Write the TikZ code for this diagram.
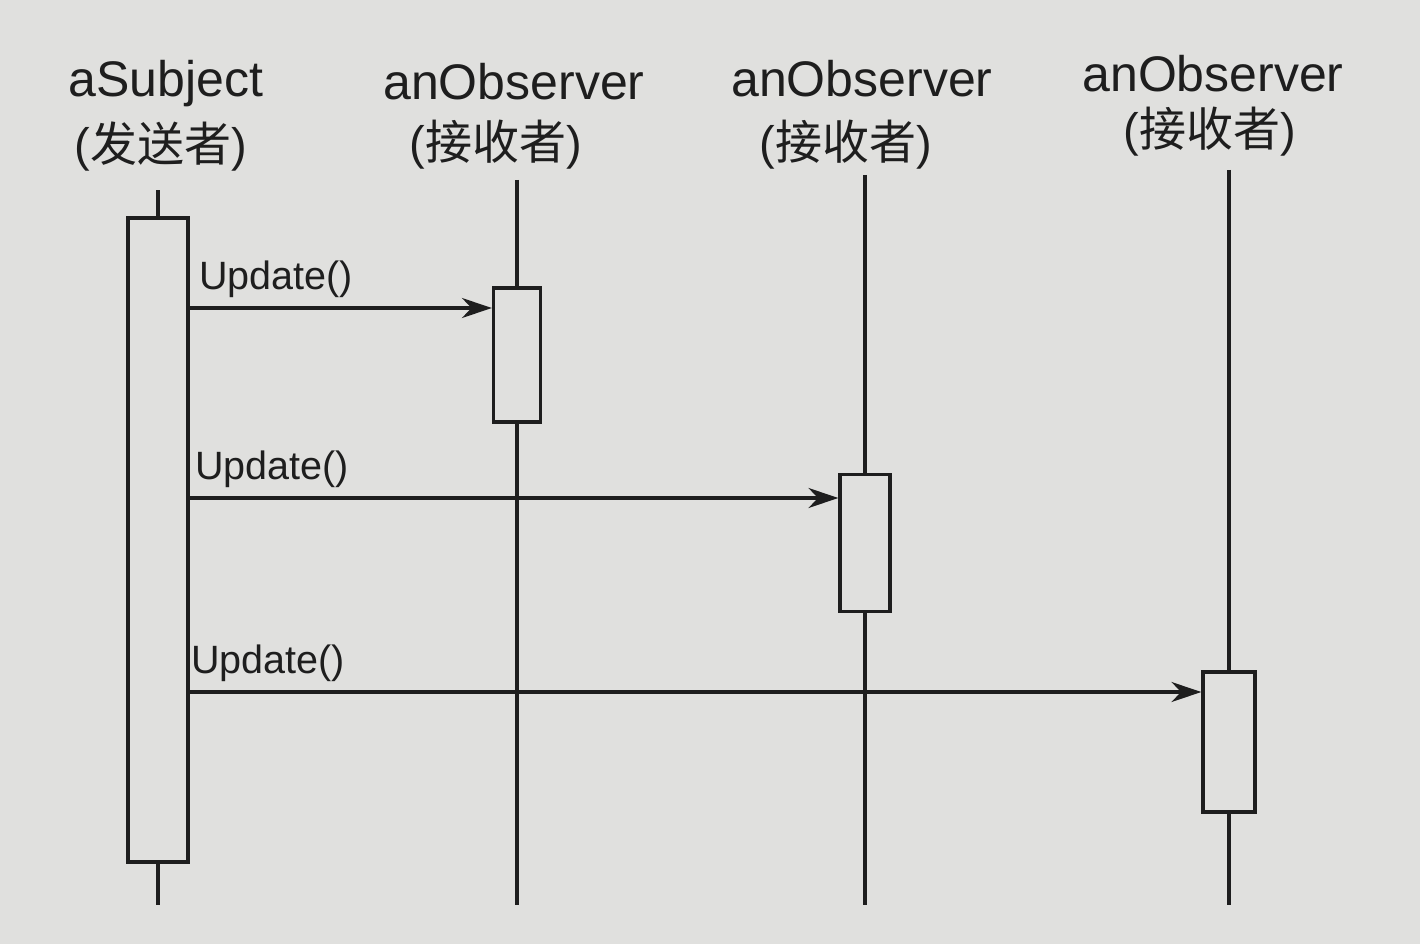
\documentclass[tikz,border=0pt]{standalone}
\usepackage{fontspec}
\setmainfont{Liberation Sans}
\newfontfamily\cjk{Noto Sans CJK SC}
\usetikzlibrary{arrows.meta}
\definecolor{paper}{RGB}{224,224,222}
\definecolor{ink}{RGB}{30,30,30}
\begin{document}
\begin{tikzpicture}[x=1pt,y=-1pt,
  actbox/.style={draw=ink,line width=3.2pt,fill=paper,rectangle,inner sep=0pt},
  lifeline/.style={draw=ink,line width=3.2pt},
  msg/.style={draw=ink,line width=3.2pt,-{Stealth[length=30pt,width=20pt]}},
  msglabel/.style={font=\fontsize{39.5}{44}\selectfont,text=ink,inner sep=0pt,anchor=base west},
  objname/.style={font=\fontsize{50}{56}\selectfont,text=ink,inner sep=0pt,anchor=base},
  role/.style={font=\fontsize{47}{52}\selectfont,text=ink,inner sep=0pt,anchor=base}]
\fill[paper] (0,0) rectangle (1420,944);
\useasboundingbox (0,0) rectangle (1420,944);
% headers
\node[objname] (n0) at (166,97) {aSubject};
\node[role] (r0) at (161,162) {(\cjk 发送者\rmfamily)};
\node[objname] (n1) at (514,100) {anObserver};
\node[role] (r1) at (496,160) {(\cjk 接收者\rmfamily)};
\node[objname] (n2) at (862,97) {anObserver};
\node[role] (r2) at (846,160) {(\cjk 接收者\rmfamily)};
\node[objname] (n3) at (1213,92) {anObserver};
\node[role] (r3) at (1210,147) {(\cjk 接收者\rmfamily)};
% lifeline ends
\coordinate (t0) at (158,190); \coordinate (b0) at (158,905);
\coordinate (t1) at (517,180); \coordinate (b1) at (517,905);
\coordinate (t2) at (865,175); \coordinate (b2) at (865,905);
\coordinate (t3) at (1229,170); \coordinate (b3) at (1229,905);
\draw[lifeline] (t0) -- (b0);
\draw[lifeline] (t1) -- (b1);
\draw[lifeline] (t2) -- (b2);
\draw[lifeline] (t3) -- (b3);
% activation boxes
\node[actbox,minimum width=60pt,minimum height=644pt] (a0) at (158,540) {};
\node[actbox,minimum width=47pt,minimum height=134pt] (a1) at (517,355) {};
\node[actbox,minimum width=50pt,minimum height=137pt] (a2) at (865,543) {};
\node[actbox,minimum width=52pt,minimum height=140pt] (a3) at (1229,742) {};
% messages
\coordinate (m1) at (188,308);
\coordinate (m2) at (188,498);
\coordinate (m3) at (188,692);
\draw[msg] (m1) -- (a1.west |- m1);
\draw[msg] (m2) -- (a2.west |- m2);
\draw[msg] (m3) -- (a3.west |- m3);
\node[msglabel] (l1) at (199,289) {Update()};
\node[msglabel] (l2) at (195,479) {Update()};
\node[msglabel] (l3) at (191,673) {Update()};
\end{tikzpicture}
\end{document}
